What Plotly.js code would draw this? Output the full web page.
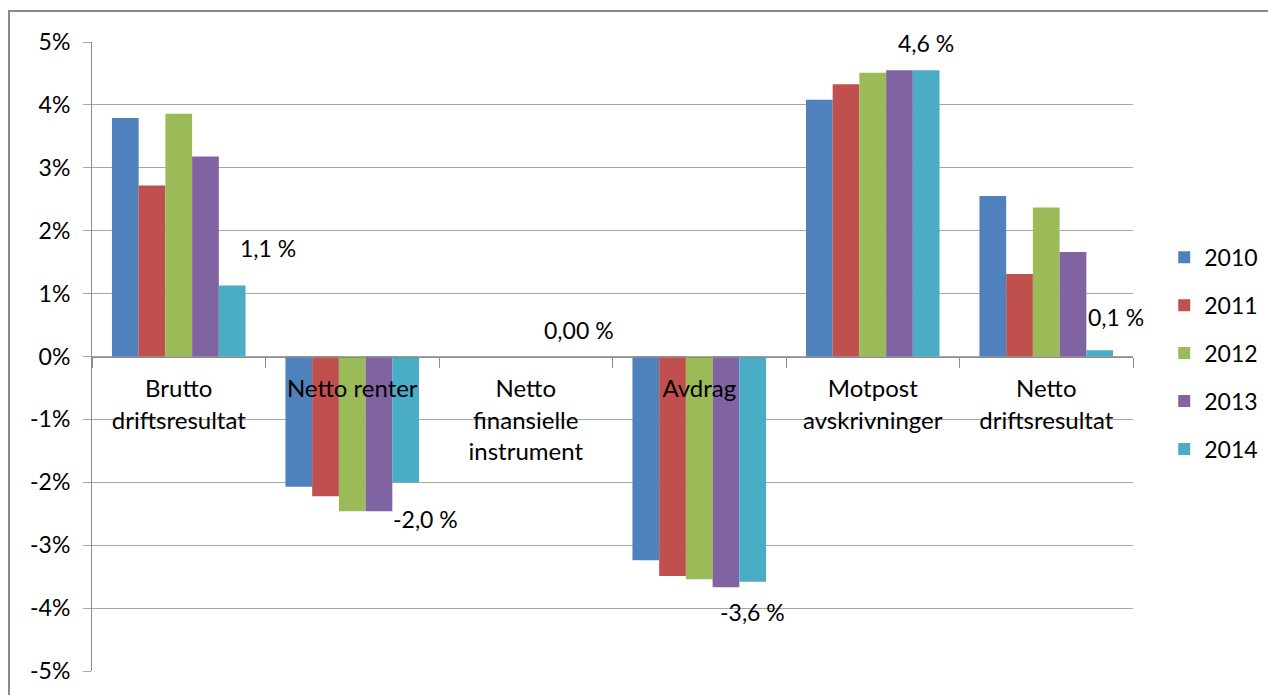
<!DOCTYPE html>
<html>
<head>
<meta charset="utf-8">
<script src="https://cdn.plot.ly/plotly-3.0.1.min.js"></script>
<style>
  html, body { margin: 0; padding: 0; background: #fff; overflow: hidden; }
  #wrap { position: absolute; left: 8px; top: 10px; width: 1320px; height: 685px;
          border-left: 2px solid #8a8a8a; border-top: 2px solid #8a8a8a; }
  #chart { width: 1320px; height: 685px; }
</style>
</head>
<body>
<div id="wrap"><div id="chart"></div></div>
<script>
const categories = ["Brutto<br>driftsresultat", "Netto renter", "Netto<br>finansielle<br>instrument",
                    "Avdrag", "Motpost<br>avskrivninger", "Netto<br>driftsresultat"];
const years = ["2010", "2011", "2012", "2013", "2014"];
const v2010 = [3.79, -2.07, 0, -3.24, 4.08, 2.55];
const v2011 = [2.72, -2.22, 0, -3.49, 4.33, 1.31];
const v2012 = [3.86, -2.46, 0, -3.54, 4.51, 2.37];
const v2013 = [3.18, -2.46, 0, -3.67, 4.55, 1.66];
const v2014 = [1.13, -2.00, 0, -3.58, 4.55, 0.10];
const labels2014 = ["1,1 %", "-2,0 %", "0,00 %", "-3,6 %", "4,6 %", "0,1 %"];
const yTickVals = [-5, -4, -3, -2, -1, 0, 1, 2, 3, 4, 5];
const yTickText = ["-5%", "-4%", "-3%", "-2%", "-1%", "0%", "1%", "2%", "3%", "4%", "5%"];

const seriesValues = [v2010, v2011, v2012, v2013, v2014];
const colors = ["#4F81BD", "#C0504D", "#9BBB59", "#8064A2", "#4BACC6"];
const FONT = "Lato, 'Liberation Sans', sans-serif";
const FS = 23;

const traces = years.map((y, i) => ({
  type: "bar",
  name: y,
  x: categories,
  y: seriesValues[i],
  marker: { color: colors[i], line: { width: 0 } },
  legendgroup: "g" + i,
  hoverinfo: "skip"
}));

// data label placement (pixel shifts relative to end of the 2014 bar)
const labelXShift = [36, 20, 0, 0, 0, 16];
const labelYShift = [37, -37, 27, -30, 27, 33];
const bargap = 0.23;
const nSeries = years.length;
const barUnit = (1 - bargap) / nSeries;
const lastOffset = (nSeries - 1 - (nSeries - 1) / 2) * barUnit;

const annotations = labels2014.map((t, i) => ({
  x: i + lastOffset,
  y: v2014[i],
  xref: "x", yref: "y",
  text: t,
  showarrow: false,
  xanchor: "center", yanchor: "middle",
  xshift: labelXShift[i],
  yshift: labelYShift[i],
  font: { family: FONT, size: FS, color: "#000" }
}));

const layout = {
  width: 1320, height: 685,
  margin: { l: 82, r: 197, t: 30, b: 26, autoexpand: false },
  paper_bgcolor: "#fff", plot_bgcolor: "#fff",
  font: { family: FONT, size: FS, color: "#000" },
  barmode: "group",
  bargap: bargap,
  bargroupgap: 0,
  showlegend: true,
  legend: {
    x: 1.03, xanchor: "left", y: 0.505, yanchor: "middle",
    font: { family: FONT, size: FS, color: "#000" },
    tracegroupgap: 15, bgcolor: "rgba(0,0,0,0)"
  },
  xaxis: {
    type: "category",
    range: [-0.5, categories.length - 0.5],
    autorange: false,
    anchor: "free", position: 0.5,
    showline: true, linecolor: "#8c8c8c", linewidth: 1,
    ticks: "outside", tickson: "boundaries", ticklen: 10, tickcolor: "#8c8c8c",
    showgrid: false, zeroline: false,
    ticklabelstandoff: 11,
    tickfont: { family: FONT, size: 24, color: "#000" },
    automargin: false,
    fixedrange: true
  },
  yaxis: {
    range: [-5, 5],
    autorange: false,
    tickvals: yTickVals, ticktext: yTickText,
    showgrid: true, gridcolor: "#a6a6a6", gridwidth: 1,
    showline: true, linecolor: "#8c8c8c", linewidth: 1,
    ticks: "outside", ticklen: 8, tickcolor: "#a6a6a6",
    zeroline: false,
    ticklabelstandoff: 8,
    tickfont: { family: FONT, size: FS, color: "#000" },
    automargin: false,
    fixedrange: true
  },
  annotations: annotations
};

Plotly.newPlot("chart", traces, layout, { staticPlot: true, displayModeBar: false });
</script>
</body>
</html>
